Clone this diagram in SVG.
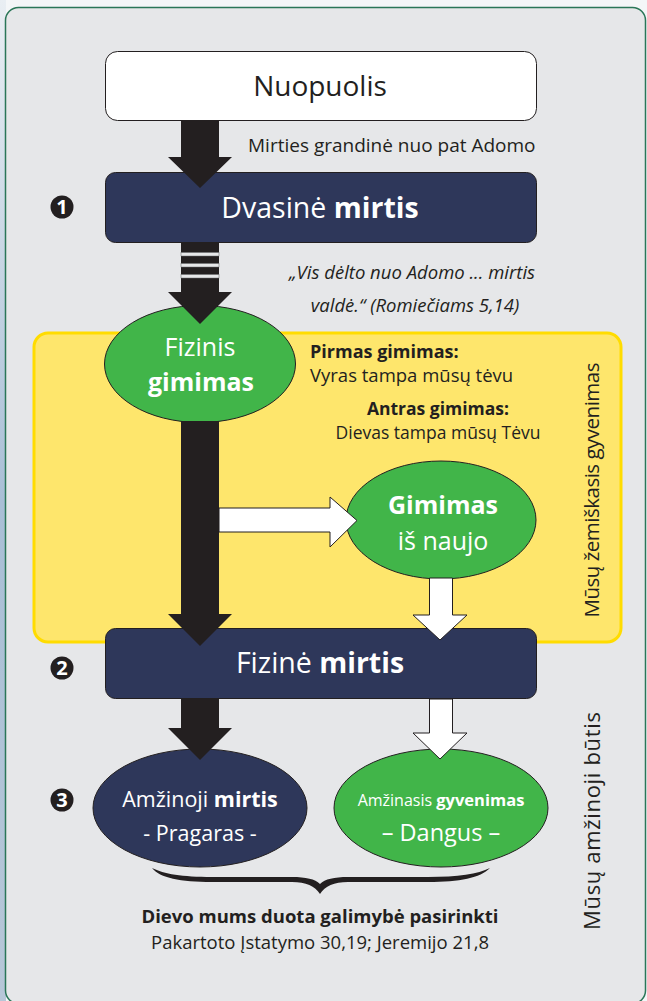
<svg xmlns="http://www.w3.org/2000/svg" width="647" height="1001" viewBox="0 0 647 1001">
<defs>
<linearGradient id="edge" x1="0" y1="0" x2="0" y2="1">
<stop offset="0" stop-color="#e9eef3"/>
<stop offset="0.5" stop-color="#a9bfd6"/>
<stop offset="1" stop-color="#b7c7d8"/>
</linearGradient>
<style>
.t{font-family:"Open Sans","Liberation Sans",sans-serif}
.w{fill:#ffffff}
.k{fill:#231f20}
.b{font-weight:700}
.i{font-style:italic}
.navy{fill:#2e375a;stroke:#231f20;stroke-width:1}
.green{fill:#41b549;stroke:#231f20;stroke-width:1}
.blk{fill:#231f20}
.wht{fill:#ffffff;stroke:#231f20;stroke-width:1}
.gap{fill:#e6e7e9;stroke:#6d6e70;stroke-width:0.5}
</style>
</defs>
<rect x="0" y="0" width="647" height="1001" fill="#f4f6f8"/>
<rect x="0" y="0" width="6" height="1001" fill="url(#edge)"/>
<rect id="frame" x="5.5" y="7.5" width="640" height="996" rx="13" fill="#e6e7e9" stroke="#2a7658" stroke-width="1.5"/>

<g id="zone-earthly">
<rect x="34" y="333" width="587" height="309" rx="14" fill="#fee66c" stroke="#ffdc00" stroke-width="3"/>
</g>

<g id="node-nuopuolis">
<rect x="105.5" y="51.5" width="431" height="69" rx="12" fill="#ffffff" stroke="#231f20" stroke-width="1"/>
<text class="t k" x="320" y="96" font-size="28" text-anchor="middle">Nuopuolis</text>
</g>

<g id="node-dvasine">
<rect class="navy" x="105.5" y="172.5" width="431" height="70" rx="10"/>
<text class="t w" x="320" y="218" font-size="28.5" text-anchor="middle">Dvasinė <tspan class="b">mirtis</tspan></text>
</g>

<g id="node-fizinis-gimimas">
<ellipse class="green" cx="200" cy="364" rx="95.5" ry="58.5"/>
<text class="t w" x="200" y="356" font-size="25" text-anchor="middle">Fizinis</text>
<text class="t w b" x="201" y="391" font-size="25" text-anchor="middle">gimimas</text>
</g>

<g id="node-gimimas-is-naujo">
<ellipse class="green" cx="441" cy="520" rx="95" ry="59"/>
<text class="t w b" x="443" y="514" font-size="25" text-anchor="middle">Gimimas</text>
<text class="t w" x="443" y="550" font-size="25" text-anchor="middle">iš naujo</text>
</g>

<g id="node-fizine">
<rect class="navy" x="105.5" y="628.5" width="431" height="70" rx="10"/>
<text class="t w" x="320" y="673" font-size="28.5" text-anchor="middle">Fizinė <tspan class="b">mirtis</tspan></text>
</g>

<g id="node-amzinoji-mirtis">
<ellipse class="navy" cx="200" cy="808" rx="107" ry="59"/>
<text class="t w" x="200" y="807" font-size="21.5" text-anchor="middle">Amžinoji <tspan class="b">mirtis</tspan></text>
<text class="t w" x="200" y="841" font-size="21.5" text-anchor="middle">- Pragaras -</text>
</g>

<g id="node-amzinasis-gyvenimas">
<ellipse class="green" cx="441" cy="808" rx="107" ry="59"/>
<text class="t w" x="441" y="806" font-size="16.5" text-anchor="middle"><tspan font-size="16">Amžinasis </tspan><tspan class="b">gyvenimas</tspan></text>
<text class="t w" x="441" y="841" font-size="23.5" text-anchor="middle">– Dangus –</text>
</g>

<g id="connectors">
<polygon class="blk" points="181,120 219,120 219,157 232,157 200,188 168,157 181,157"/>
<rect class="blk" x="181" y="242" width="38" height="51"/>
<rect class="gap" x="181" y="252.5" width="38" height="3.5"/>
<rect class="gap" x="181" y="263.5" width="38" height="3.5"/>
<rect class="gap" x="181" y="274.5" width="38" height="3.5"/>
<polygon class="blk" points="168,292 232,292 200,324"/>
<polygon class="blk" points="181,421 219,421 219,614 232,614 200,646 168,614 181,614"/>
<polygon class="wht" points="219,508 330,508 330,497 357,520.5 330,547 330,532 219,532"/>
<polygon class="wht" points="429.5,578 452.5,578 452.5,615 467,615 440,640 413,615 429.5,615"/>
<polygon class="blk" points="181,699 219,699 219,728 232,728 200,760 168,728 181,728"/>
<polygon class="wht" points="429.5,699 452.5,699 452.5,733 467,733 440,759 413,733 429.5,733"/>
</g>

<g id="labels">
<text class="t k" x="248" y="152" font-size="19">Mirties grandinė nuo pat Adomo</text>
<text class="t k i" x="412" y="279" font-size="18.5" text-anchor="middle">„Vis dėlto nuo Adomo ... mirtis</text>
<text class="t k i" x="415" y="312" font-size="18.5" text-anchor="middle">valdė.“ (Romiečiams 5,14)</text>
<text class="t k b" x="310" y="358" font-size="18">Pirmas gimimas:</text>
<text class="t k" x="310" y="382" font-size="18.5">Vyras tampa mūsų tėvu</text>
<text class="t k b" x="438" y="415" font-size="17.5" text-anchor="middle">Antras gimimas:</text>
<text class="t k" x="438" y="439" font-size="17.5" text-anchor="middle">Dievas tampa mūsų Tėvu</text>
<text class="t k" font-size="20.5" text-anchor="middle" textLength="255" transform="translate(599,490) rotate(-90)">Mūsų žemiškasis gyvenimas</text>
<text class="t k" font-size="22" text-anchor="middle" textLength="218" transform="translate(600,821) rotate(-90)">Mūsų amžinoji būtis</text>
<text class="t k b" x="320" y="923" font-size="18.5" text-anchor="middle">Dievo mums duota galimybė pasirinkti</text>
<text class="t k" x="320" y="949" font-size="18.5" text-anchor="middle">Pakartoto Įstatymo 30,19; Jeremijo 21,8</text>
</g>

<g id="step-numbers">
<circle cx="62" cy="207" r="11.5" fill="#231f20"/>
<text class="t w b" x="62" y="214" font-size="20" text-anchor="middle">1</text>
<circle cx="62" cy="668" r="11.5" fill="#231f20"/>
<text class="t w b" x="62" y="675" font-size="20" text-anchor="middle">2</text>
<circle cx="62" cy="800" r="11.5" fill="#231f20"/>
<text class="t w b" x="62" y="807" font-size="20" text-anchor="middle">3</text>
</g>

<g id="brace">
<path fill="#231f20" d="M152,868 C160,878 180,882 212,882 L292,882 C306,882 315,886 320,894 C325,886 334,882 348,882 L428,882 C460,882 480,878 490,868 C478,874 458,877 428,877 L348,877 C334,877 325,879 320,884 C315,879 306,877 292,877 L212,877 C182,877 164,874 152,868 Z"/>
</g>
</svg>
